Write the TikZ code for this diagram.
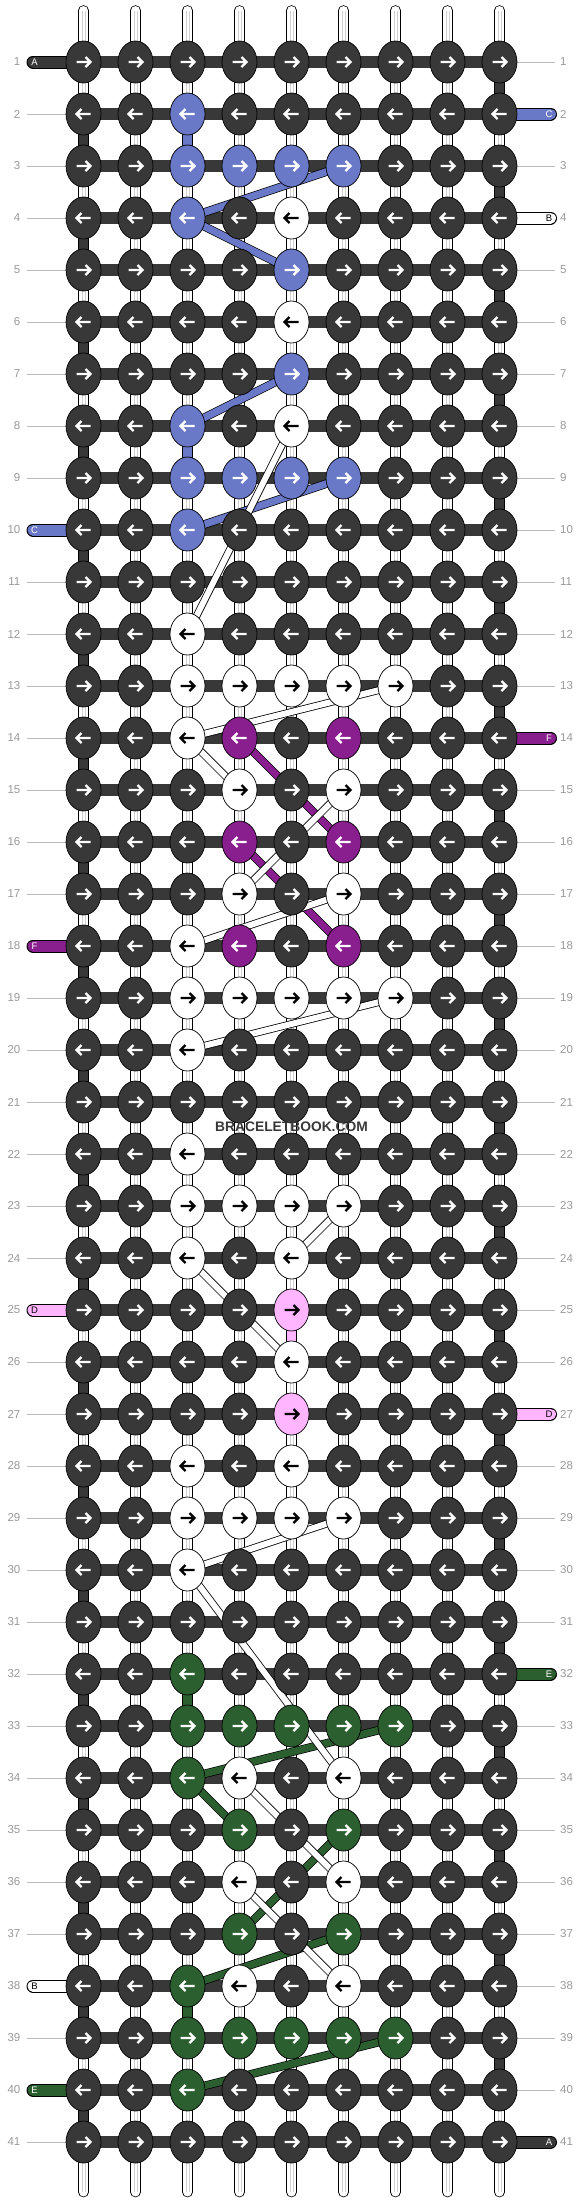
\documentclass[tikz,border=0pt]{standalone}
\usepackage{fontspec}
\setmainfont{Liberation Sans}
\usetikzlibrary{shapes.geometric}
\definecolor{cd}{HTML}{383838}
\definecolor{cb}{HTML}{6A78C8}
\definecolor{cp}{HTML}{891E8E}
\definecolor{cg}{HTML}{2C5F30}
\definecolor{cpk}{HTML}{FFB5FF}
\definecolor{cw}{HTML}{FFFFFF}
\definecolor{lbl}{HTML}{999999}
\definecolor{gline}{HTML}{BBBBBB}
\definecolor{tubein}{HTML}{CFCFCF}
\def\setk#1#2#3{\expandafter\def\csname kc-#1-#2\endcsname{#3}}
\expandafter\def\csname ac-cd\endcsname{white}
\expandafter\def\csname ac-cb\endcsname{white}
\expandafter\def\csname ac-cp\endcsname{white}
\expandafter\def\csname ac-cg\endcsname{white}
\expandafter\def\csname ac-cw\endcsname{black}
\expandafter\def\csname ac-cpk\endcsname{black}
% knot colours
\setk{2}{3}{cb}
\setk{3}{3}{cb}\setk{3}{4}{cb}\setk{3}{5}{cb}\setk{3}{6}{cb}
\setk{4}{3}{cb}\setk{4}{5}{cw}
\setk{5}{5}{cb}
\setk{6}{5}{cw}
\setk{7}{5}{cb}
\setk{8}{3}{cb}\setk{8}{5}{cw}
\setk{9}{3}{cb}\setk{9}{4}{cb}\setk{9}{5}{cb}\setk{9}{6}{cb}
\setk{10}{3}{cb}
\setk{12}{3}{cw}
\setk{13}{3}{cw}\setk{13}{4}{cw}\setk{13}{5}{cw}\setk{13}{6}{cw}\setk{13}{7}{cw}
\setk{14}{3}{cw}\setk{14}{4}{cp}\setk{14}{6}{cp}
\setk{15}{4}{cw}\setk{15}{6}{cw}
\setk{16}{4}{cp}\setk{16}{6}{cp}
\setk{17}{4}{cw}\setk{17}{6}{cw}
\setk{18}{3}{cw}\setk{18}{4}{cp}\setk{18}{6}{cp}
\setk{19}{3}{cw}\setk{19}{4}{cw}\setk{19}{5}{cw}\setk{19}{6}{cw}\setk{19}{7}{cw}
\setk{20}{3}{cw}
\setk{22}{3}{cw}
\setk{23}{3}{cw}\setk{23}{4}{cw}\setk{23}{5}{cw}\setk{23}{6}{cw}
\setk{24}{3}{cw}\setk{24}{5}{cw}
\setk{25}{5}{cpk}
\setk{26}{5}{cw}
\setk{27}{5}{cpk}
\setk{28}{3}{cw}\setk{28}{5}{cw}
\setk{29}{3}{cw}\setk{29}{4}{cw}\setk{29}{5}{cw}\setk{29}{6}{cw}
\setk{30}{3}{cw}
\setk{32}{3}{cg}
\setk{33}{3}{cg}\setk{33}{4}{cg}\setk{33}{5}{cg}\setk{33}{6}{cg}\setk{33}{7}{cg}
\setk{34}{3}{cg}\setk{34}{4}{cw}\setk{34}{6}{cw}
\setk{35}{4}{cg}\setk{35}{6}{cg}
\setk{36}{4}{cw}\setk{36}{6}{cw}
\setk{37}{4}{cg}\setk{37}{6}{cg}
\setk{38}{3}{cg}\setk{38}{4}{cw}\setk{38}{6}{cw}
\setk{39}{3}{cg}\setk{39}{4}{cg}\setk{39}{5}{cg}\setk{39}{6}{cg}\setk{39}{7}{cg}
\setk{40}{3}{cg}
\begin{document}
\begin{tikzpicture}[x=1pt,y=-1pt,
  knot/.style={ellipse, draw=black, line width=0.7pt, minimum width=35pt, minimum height=42pt, inner sep=0pt},
  arr/.style={line width=2.3pt, line join=miter, line cap=butt},
  num/.style={text=lbl, font=\fontsize{11.5}{12}\selectfont, inner sep=0pt},
  stublbl/.style={font=\fontsize{9.5}{10}\selectfont, inner sep=0pt},
  sideline/.style={draw=gline, line width=0.9pt},
  outer/.style={draw=black, line width=#1},
  wm/.style={font=\bfseries\fontsize{13.8}{14}\selectfont, text=cd, inner sep=0pt}]
\useasboundingbox (0,0) rectangle (584,2204);
% coordinates
\foreach \r in {1,...,41}{
  \foreach \cc in {1,...,9}{
    \coordinate (p-\r-\cc) at ({83.5+52*(\cc-1)},{62+52*(\r-1)});
  }
  \coordinate (gl-\r) at (27,{62+52*(\r-1)});
  \coordinate (gr-\r) at (555,{62+52*(\r-1)});
  \coordinate (sl-\r) at (33,{62+52*(\r-1)});
  \coordinate (sr-\r) at (550.5,{62+52*(\r-1)});
}
\foreach \cc in {1,...,9}{
  \coordinate (tt-\cc) at ({83.5+52*(\cc-1)},10.5);
  \coordinate (tb-\cc) at ({83.5+52*(\cc-1)},2192);
}
% side lines
\foreach \r in {1,...,41}{
  \draw[sideline] (gl-\r) -- (p-\r-1);
  \draw[sideline] (p-\r-9) -- (gr-\r);
}
% base strings (tubes)
\foreach \cc in {1,...,9}{
  \draw[outer=10.6pt, line cap=round] (tt-\cc) -- (tb-\cc);
  \draw[draw=white, line width=9pt, line cap=round] (tt-\cc) -- (tb-\cc);
  \draw[draw=tubein, line width=0.8pt] ([xshift=-1.6pt]tt-\cc) -- ([xshift=-1.6pt]tb-\cc);
  \draw[draw=tubein, line width=0.8pt] ([xshift=1.6pt]tt-\cc) -- ([xshift=1.6pt]tb-\cc);
}
% horizontal bars
\foreach \r in {1,...,41}{
  \draw[outer=12.6pt] (p-\r-1) -- (p-\r-9);
  \draw[draw=cd, line width=11.2pt] (p-\r-1) -- (p-\r-9);
}
% thread ends
\foreach \r/\col in {1/cd, 10/cb, 18/cp, 25/cpk, 38/cw, 40/cg}{
  \draw[outer=13pt, line cap=round] (sl-\r) -- (p-\r-1);
  \draw[draw=\col, line width=11pt, line cap=round] (sl-\r) -- (p-\r-1);
}
\foreach \r/\col in {2/cb, 4/cw, 14/cp, 27/cpk, 32/cg, 41/cd}{
  \draw[outer=13pt, line cap=round] (p-\r-9) -- (sr-\r);
  \draw[draw=\col, line width=11pt, line cap=round] (p-\r-9) -- (sr-\r);
}
% vertical connectors
\foreach \r in {1,...,40}{
  \pgfmathtruncatemacro\rn{\r+1}
  \ifodd\r\relax \def\ec{9}\else\def\ec{1}\fi
  \draw[outer=10.6pt] (p-\r-\ec) -- (p-\rn-\ec);
  \draw[draw=cd, line width=9.2pt] (p-\r-\ec) -- (p-\rn-\ec);
}
\foreach \a/\b/\cc/\col in {2/3/3/cb, 8/9/3/cb, 25/26/5/cpk, 32/33/3/cg, 38/39/3/cg}{
  \draw[outer=10.6pt] (p-\a-\cc) -- (p-\b-\cc);
  \draw[draw=\col, line width=9.2pt] (p-\a-\cc) -- (p-\b-\cc);
}
% coloured threads passing behind
\foreach \a/\b/\e/\d/\col in {3/6/4/3/cb, 4/3/5/5/cb, 7/5/8/3/cb, 9/6/10/3/cb,
    14/4/16/6/cp, 16/4/18/6/cp,
    33/7/34/3/cg, 34/3/35/4/cg, 35/6/37/4/cg, 37/6/38/3/cg, 39/7/40/3/cg}{
  \draw[outer=8.4pt] (p-\a-\b) -- (p-\e-\d);
  \draw[draw=\col, line width=7pt] (p-\a-\b) -- (p-\e-\d);
}
\foreach \a/\b/\e/\d in {8/5/12/3, 13/7/14/3, 14/3/15/4, 15/6/17/4, 17/6/18/3, 19/7/20/3,
    23/6/24/5, 24/3/26/5, 29/6/30/3, 30/3/34/6, 34/4/36/6, 36/4/38/6}{
  \draw[outer=7.6pt] (p-\a-\b) -- (p-\e-\d);
  \draw[draw=white, line width=6pt] (p-\a-\b) -- (p-\e-\d);
}
% knots
\foreach \r in {1,...,41}{
  \foreach \cc in {1,...,9}{
    \ifcsname kc-\r-\cc\endcsname \edef\kf{\csname kc-\r-\cc\endcsname}\else\def\kf{cd}\fi
    \edef\ka{\csname ac-\kf\endcsname}
    \ifodd\r\relax \def\dir{1}\else\def\dir{-1}\fi
    \node[knot, fill=\kf] (k-\r-\cc) at (p-\r-\cc) {};
    \draw[arr, draw=\ka, shift={(k-\r-\cc.center)}, xscale=\dir] (-7,0) -- (6.5,0) (2,-5) -- (7,0) -- (2,5);
  }
}
% row numbers
\foreach \r in {1,...,41}{
  \node[num, anchor=east] (nl-\r) at ([xshift=-6.5pt]gl-\r) {\r};
  \node[num, anchor=west] (nr-\r) at ([xshift=5pt]gr-\r) {\r};
}
% thread letters
\foreach \r/\t/\tc in {1/A/white, 10/C/white, 18/F/white, 25/D/black, 38/B/black, 40/E/white}{
  \node[stublbl, text=\tc] (ls-\r) at ([xshift=1.5pt]sl-\r) {\t};
}
\foreach \r/\t/\tc in {2/C/white, 4/B/black, 14/F/white, 27/D/black, 32/E/white, 41/A/white}{
  \node[stublbl, text=\tc] (rs-\r) at ([xshift=-1.5pt]sr-\r) {\t};
}
\node[wm] (mark) at (291.5,1127) {BRACELETBOOK.COM};
\end{tikzpicture}
\end{document}
